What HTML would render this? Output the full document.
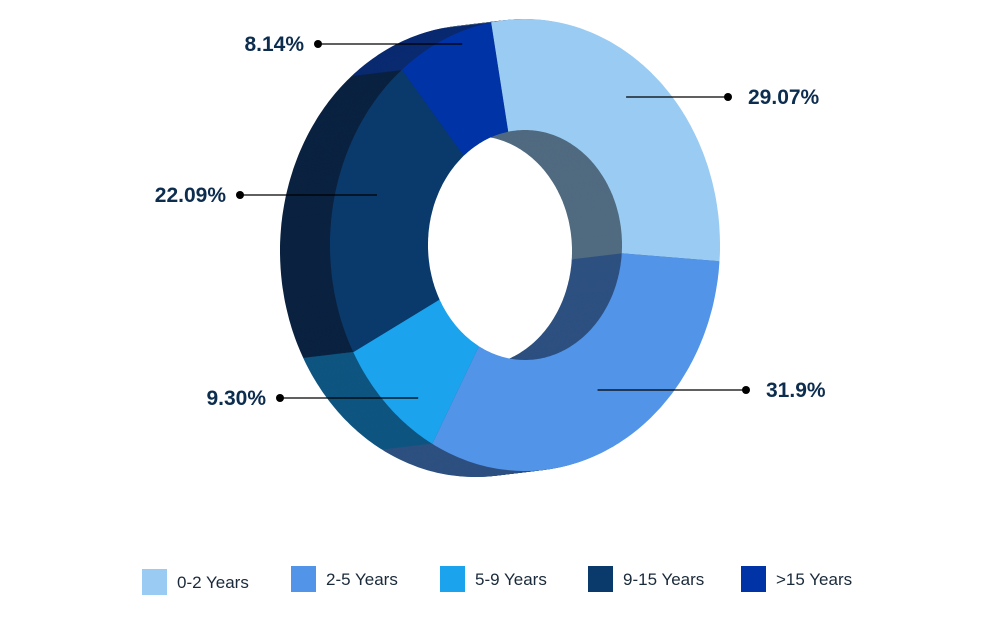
<!DOCTYPE html>
<html><head><meta charset="utf-8"><style>
body{margin:0;background:#fff;}
svg text{font-family:"Liberation Sans",sans-serif;}
</style></head><body>
<svg id="c" width="1000" height="615" viewBox="0 0 1000 615"></svg>
<script>
const categories=['0-2 Years','2-5 Years','5-9 Years','9-15 Years','>15 Years'];
const values=[29.07,31.9,9.30,22.09,8.14];
const valueLabels=['29.07%','31.9%','9.30%','22.09%','8.14%'];
const colors=['#99cbf3','#5294e8','#1ba3ed','#0a3a6c','#0033a6'];
const sideColors=['#506a80','#2d5080','#0e5580','#0a2240','#0a2a70'];
const NS='http://www.w3.org/2000/svg';
const svg=document.getElementById('c');
const cx=525,cy=245,rx=195,ry=226,irx=97,iry=115,depthX=-50,depthY=6,startDeg=-10;
const total=values.reduce((a,b)=>a+b,0);
function pt(t,a,b,ox,oy){return [cx+ox+a*Math.sin(t),cy+oy-b*Math.cos(t)];}
function ring(t0,t1,ox,oy){
  const n=Math.max(4,Math.ceil((t1-t0)*60));let p=[];
  for(let i=0;i<=n;i++){p.push(pt(t0+(t1-t0)*i/n,rx,ry,ox,oy));}
  for(let i=n;i>=0;i--){p.push(pt(t0+(t1-t0)*i/n,irx,iry,ox,oy));}
  return 'M'+p.map(q=>q[0].toFixed(1)+','+q[1].toFixed(1)).join('L')+'Z';
}
const angles=[];let acc=startDeg*Math.PI/180;
values.forEach(v=>{const a=v/total*2*Math.PI;angles.push([acc,acc+a]);acc+=a;});
const N=50;
for(let k=N;k>=1;k--){
  const ox=depthX*k/N,oy=depthY*k/N;
  angles.forEach((a,i)=>{
    const p=document.createElementNS(NS,'path');
    p.setAttribute('d',ring(a[0],a[1],ox,oy));
    p.setAttribute('fill',sideColors[i]);
    
    
    svg.appendChild(p);
  });
}
angles.forEach((a,i)=>{
  const p=document.createElementNS(NS,'path');
  p.setAttribute('d',ring(a[0],a[1],0,0));
  p.setAttribute('fill',colors[i]);
  
  
  svg.appendChild(p);
});
// labels: y positions and side are layout
const labelY=[97,390,398,195,44];
const labelRight=[true,true,false,false,false];
const dotX=[728,746,280,240,318];
angles.forEach((a,i)=>{
  const mid=(a[0]+a[1])/2;
  const r=0.55;
  const sx=cx+(irx+(rx-irx)*r)*Math.sin(mid);
  const y=labelY[i];
  const l=document.createElementNS(NS,'line');
  l.setAttribute('x1',sx);l.setAttribute('y1',y);l.setAttribute('x2',dotX[i]);l.setAttribute('y2',y);
  l.setAttribute('stroke','#000');l.setAttribute('stroke-width','1.2');
  
  
  svg.appendChild(l);
  const c=document.createElementNS(NS,'circle');
  c.setAttribute('cx',dotX[i]);c.setAttribute('cy',y);c.setAttribute('r',4);c.setAttribute('fill','#000');
  
  
  svg.appendChild(c);
  const t=document.createElementNS(NS,'text');
  t.setAttribute('x',labelRight[i]?dotX[i]+20:dotX[i]-14);
  t.setAttribute('y',y+7);
  t.setAttribute('text-anchor',labelRight[i]?'start':'end');
  t.setAttribute('font-size','21');t.setAttribute('font-weight','bold');t.setAttribute('fill','#0d2d4f');
  t.textContent=valueLabels[i];
  
  
  svg.appendChild(t);
});
const legX=[142,291,440,588,741];
categories.forEach((c,i)=>{
  const r=document.createElementNS(NS,'rect');
  r.setAttribute('x',legX[i]);r.setAttribute('y',i==0?569:566);r.setAttribute('width',25);r.setAttribute('height',26);
  r.setAttribute('fill',colors[i]);
  
  
  svg.appendChild(r);
  const t=document.createElementNS(NS,'text');
  t.setAttribute('x',legX[i]+35);t.setAttribute('y',i==0?588:585);
  t.setAttribute('font-size','17');t.setAttribute('fill','#1a2a3a');
  t.textContent=c;
  
  
  svg.appendChild(t);
});
</script>
</body></html>
